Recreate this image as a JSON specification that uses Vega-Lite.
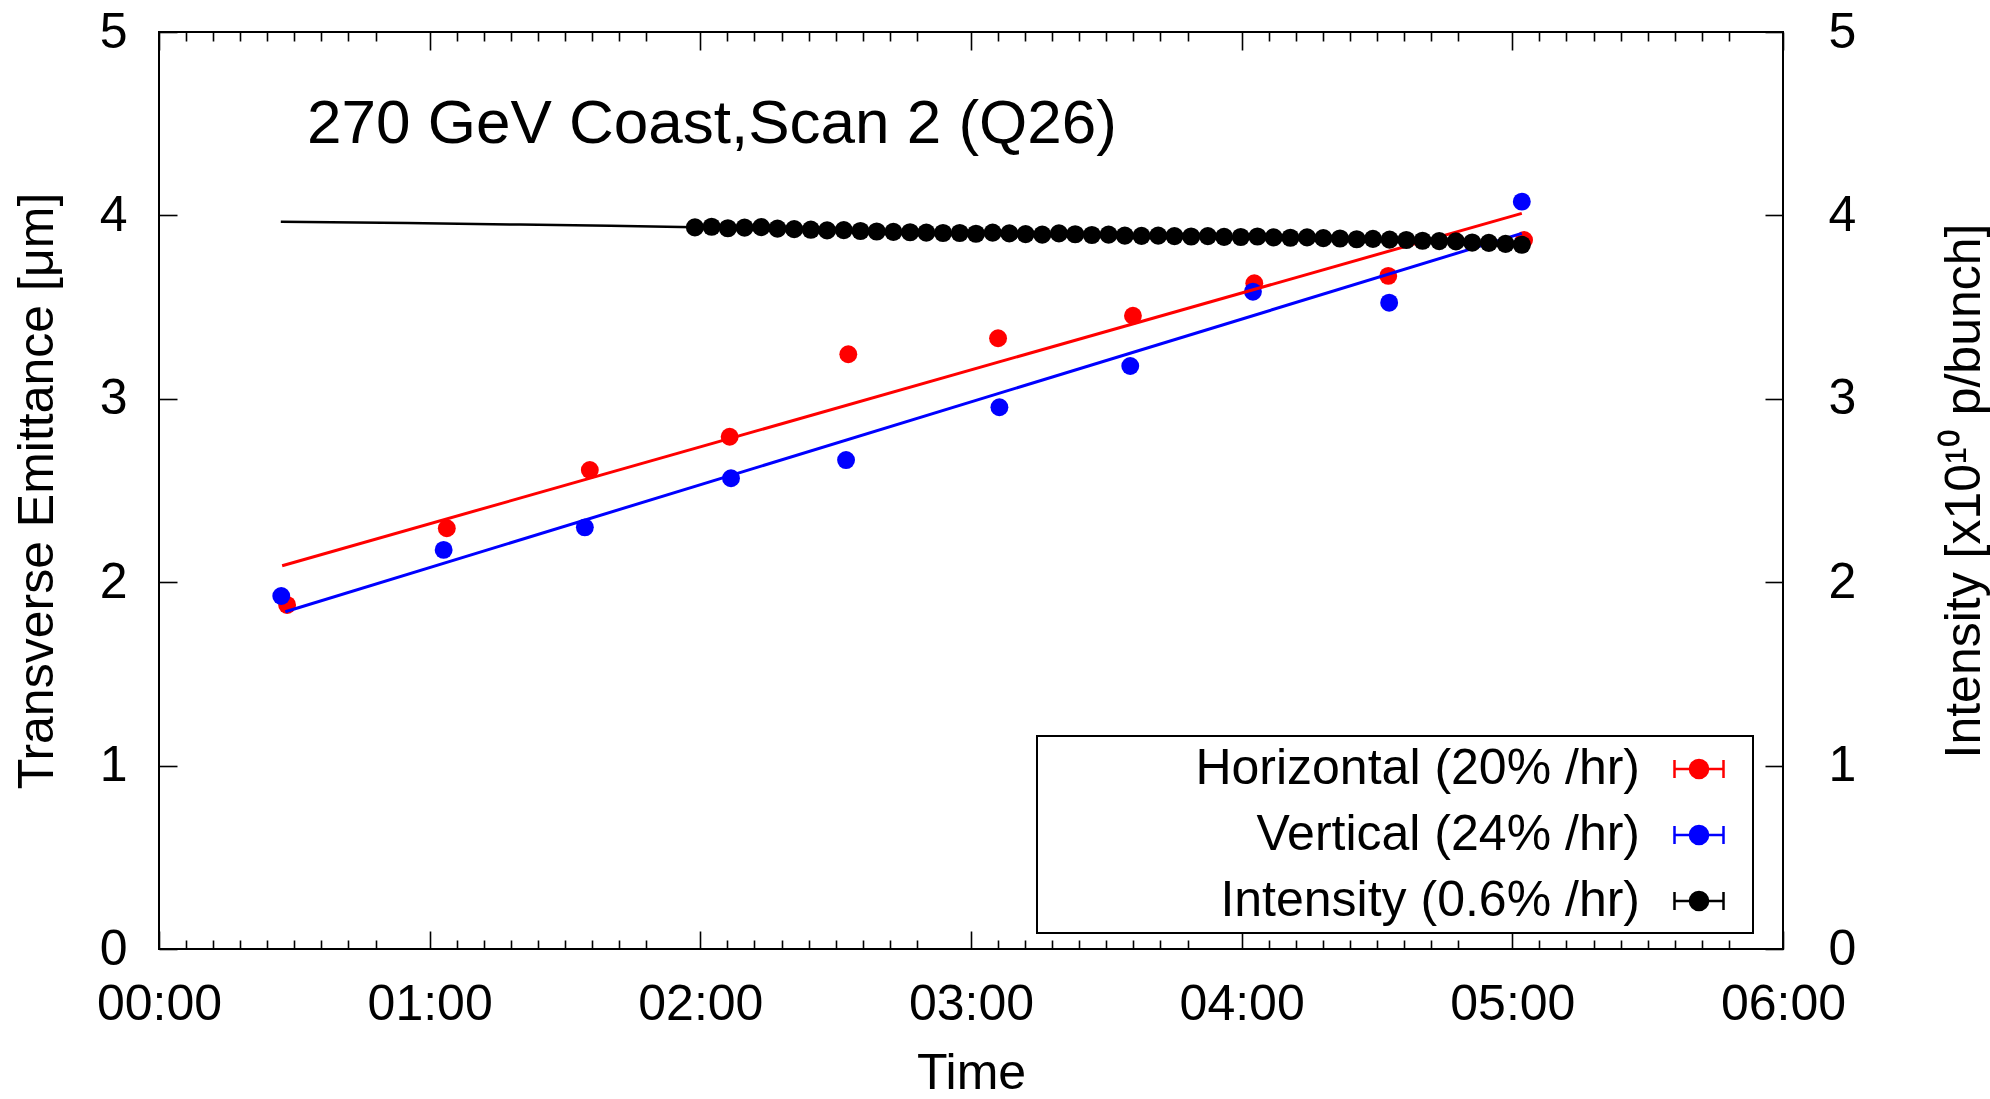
{
  "$schema": "https://vega.github.io/schema/vega-lite/v6.json",
  "width": 1624,
  "height": 917,
  "autosize": {"type": "none"},
  "padding": {"left": 159, "top": 32, "right": 207, "bottom": 150},
  "background": "white",
  "title": {
    "text": "270 GeV Coast,Scan 2 (Q26)",
    "anchor": "start",
    "frame": "group",
    "orient": "top",
    "offset": -198,
    "dx": 148,
    "baseline": "alphabetic",
    "font": "Liberation Sans",
    "fontSize": 62,
    "fontWeight": "normal",
    "color": "black"
  },
  "config": {
    "font": "Liberation Sans",
    "view": {"stroke": "black", "strokeWidth": 2},
    "axis": {
      "domain": false,
      "grid": false,
      "tickColor": "black",
      "tickWidth": 1.6,
      "labelFont": "Liberation Sans",
      "labelFontSize": 50,
      "labelColor": "black",
      "titleFont": "Liberation Sans",
      "titleFontSize": 50,
      "titleFontWeight": "normal",
      "titleColor": "black"
    }
  },
  "datasets": {
    "emit": [
      {"series": "Horizontal (20% /hr)", "minutes": 28.4, "value": 1.876},
      {"series": "Horizontal (20% /hr)", "minutes": 63.8, "value": 2.294},
      {"series": "Horizontal (20% /hr)", "minutes": 95.5, "value": 2.612},
      {"series": "Horizontal (20% /hr)", "minutes": 126.5, "value": 2.793},
      {"series": "Horizontal (20% /hr)", "minutes": 152.8, "value": 3.243},
      {"series": "Horizontal (20% /hr)", "minutes": 186.0, "value": 3.330},
      {"series": "Horizontal (20% /hr)", "minutes": 215.9, "value": 3.453},
      {"series": "Horizontal (20% /hr)", "minutes": 242.8, "value": 3.630},
      {"series": "Horizontal (20% /hr)", "minutes": 272.5, "value": 3.670},
      {"series": "Horizontal (20% /hr)", "minutes": 302.6, "value": 3.866},
      {"series": "Vertical (24% /hr)", "minutes": 27.1, "value": 1.925},
      {"series": "Vertical (24% /hr)", "minutes": 63.1, "value": 2.176},
      {"series": "Vertical (24% /hr)", "minutes": 94.4, "value": 2.299},
      {"series": "Vertical (24% /hr)", "minutes": 126.8, "value": 2.567},
      {"series": "Vertical (24% /hr)", "minutes": 152.3, "value": 2.666},
      {"series": "Vertical (24% /hr)", "minutes": 186.3, "value": 2.954},
      {"series": "Vertical (24% /hr)", "minutes": 215.3, "value": 3.179},
      {"series": "Vertical (24% /hr)", "minutes": 242.5, "value": 3.584},
      {"series": "Vertical (24% /hr)", "minutes": 272.7, "value": 3.524},
      {"series": "Vertical (24% /hr)", "minutes": 302.1, "value": 4.075}
    ],
    "fit": [
      {"series": "Horizontal", "minutes": 27.3, "value": 2.090},
      {"series": "Horizontal", "minutes": 302.1, "value": 4.011},
      {"series": "Vertical", "minutes": 28.0, "value": 1.839},
      {"series": "Vertical", "minutes": 302.1, "value": 3.902}
    ],
    "intensity": [
      {"minutes": 27.0, "value": 3.965, "dot": false},
      {"minutes": 55.0, "value": 3.958, "dot": false},
      {"minutes": 80.0, "value": 3.950, "dot": false},
      {"minutes": 100.0, "value": 3.944, "dot": false},
      {"minutes": 118.8, "value": 3.935, "dot": true},
      {"minutes": 122.5, "value": 3.938, "dot": true},
      {"minutes": 126.1, "value": 3.930, "dot": true},
      {"minutes": 129.8, "value": 3.933, "dot": true},
      {"minutes": 133.5, "value": 3.936, "dot": true},
      {"minutes": 137.1, "value": 3.928, "dot": true},
      {"minutes": 140.8, "value": 3.925, "dot": true},
      {"minutes": 144.5, "value": 3.922, "dot": true},
      {"minutes": 148.1, "value": 3.918, "dot": true},
      {"minutes": 151.8, "value": 3.920, "dot": true},
      {"minutes": 155.5, "value": 3.915, "dot": true},
      {"minutes": 159.1, "value": 3.912, "dot": true},
      {"minutes": 162.8, "value": 3.910, "dot": true},
      {"minutes": 166.5, "value": 3.908, "dot": true},
      {"minutes": 170.1, "value": 3.906, "dot": true},
      {"minutes": 173.8, "value": 3.904, "dot": true},
      {"minutes": 177.5, "value": 3.904, "dot": true},
      {"minutes": 181.1, "value": 3.900, "dot": true},
      {"minutes": 184.8, "value": 3.906, "dot": true},
      {"minutes": 188.5, "value": 3.902, "dot": true},
      {"minutes": 192.1, "value": 3.898, "dot": true},
      {"minutes": 195.8, "value": 3.895, "dot": true},
      {"minutes": 199.5, "value": 3.902, "dot": true},
      {"minutes": 203.1, "value": 3.897, "dot": true},
      {"minutes": 206.8, "value": 3.893, "dot": true},
      {"minutes": 210.5, "value": 3.895, "dot": true},
      {"minutes": 214.1, "value": 3.890, "dot": true},
      {"minutes": 217.8, "value": 3.888, "dot": true},
      {"minutes": 221.5, "value": 3.890, "dot": true},
      {"minutes": 225.1, "value": 3.887, "dot": true},
      {"minutes": 228.8, "value": 3.885, "dot": true},
      {"minutes": 232.5, "value": 3.887, "dot": true},
      {"minutes": 236.1, "value": 3.883, "dot": true},
      {"minutes": 239.8, "value": 3.882, "dot": true},
      {"minutes": 243.5, "value": 3.885, "dot": true},
      {"minutes": 247.1, "value": 3.880, "dot": true},
      {"minutes": 250.8, "value": 3.878, "dot": true},
      {"minutes": 254.5, "value": 3.880, "dot": true},
      {"minutes": 258.1, "value": 3.876, "dot": true},
      {"minutes": 261.8, "value": 3.874, "dot": true},
      {"minutes": 265.5, "value": 3.870, "dot": true},
      {"minutes": 269.1, "value": 3.872, "dot": true},
      {"minutes": 272.8, "value": 3.868, "dot": true},
      {"minutes": 276.5, "value": 3.866, "dot": true},
      {"minutes": 280.1, "value": 3.862, "dot": true},
      {"minutes": 283.8, "value": 3.860, "dot": true},
      {"minutes": 287.5, "value": 3.858, "dot": true},
      {"minutes": 291.1, "value": 3.852, "dot": true},
      {"minutes": 294.8, "value": 3.850, "dot": true},
      {"minutes": 298.5, "value": 3.845, "dot": true},
      {"minutes": 302.1, "value": 3.840, "dot": true}
    ]
  },
  "layer": [
    {
      "data": {"name": "emit"},
      "mark": {"type": "circle", "size": 320, "opacity": 1},
      "encoding": {
        "x": {
          "field": "minutes", "type": "quantitative",
          "scale": {"domain": [0, 360], "nice": false, "zero": false},
          "axis": {
            "orient": "bottom",
            "title": "Time",
            "titlePadding": 10,
            "values": [0,6,12,18,24,30,36,42,48,60,66,72,78,84,90,96,102,108,120,126,132,138,144,150,156,162,168,180,186,192,198,204,210,216,222,228,240,246,252,258,264,270,276,282,288,300,306,312,318,324,330,336,342,348,360],
            "labelExpr": "datum.value % 60 === 0 ? '0' + (datum.value / 60) + ':00' : ''",
            "tickSize": {"condition": {"test": "datum.value % 60 === 0", "value": -18}, "value": -9},
            "labelPadding": 48,
            "labelFlush": false,
            "labelOverlap": false
          }
        },
        "y": {
          "field": "value", "type": "quantitative",
          "scale": {"domain": [0, 5], "nice": false},
          "axis": {
            "orient": "left",
            "title": "Transverse Emittance [μm]",
            "values": [0, 1, 2, 3, 4, 5],
            "format": "d",
            "tickSize": -18,
            "labelPadding": 50,
            "titlePadding": 37
          }
        },
        "color": {
          "field": "series", "type": "nominal",
          "scale": {
            "domain": ["Horizontal (20% /hr)", "Vertical (24% /hr)", "Intensity (0.6% /hr)"],
            "range": ["#ff0000", "#0000ff", "#000000"]
          },
          "legend": {
            "orient": "none",
            "legendX": 878,
            "legendY": 704,
            "title": " ",
            "titleOrient": "left",
            "titleFontSize": 50,
            "titlePadding": 149,
            "fillColor": "white",
            "strokeColor": "black",
            "padding": 7,
            "rowPadding": 15,
            "labelFont": "Liberation Sans",
            "labelFontSize": 50,
            "labelColor": "black",
            "labelLimit": 1000,
            "labelAlign": "right",
            "labelOffset": -85,
            "symbolOffset": 480,
            "symbolType": "M-1,0H1M-1,-0.37V0.37M1,-0.37V0.37M-0.37,0A0.37,0.37,0,1,0,0.37,0A0.37,0.37,0,1,0,-0.37,0ZM1.7,0",
            "symbolSize": 2401,
            "symbolStrokeWidth": 2.5,
            "encoding": {
              "legend": {"strokeWidth": {"value": 2}},
              "symbols": {
                "stroke": {"value": {"expr": "scale('color', datum.value)"}},
                "strokeWidth": {"value": 2.5},
                "opacity": {"value": 1}
              }
            }
          }
        }
      }
    },
    {
      "data": {"name": "fit"},
      "mark": {"type": "line", "strokeWidth": 3},
      "encoding": {
        "x": {"field": "minutes", "type": "quantitative", "axis": null},
        "y": {"field": "value", "type": "quantitative", "axis": null},
        "detail": {"field": "series"},
        "color": {"condition": {"test": "datum.series === 'Horizontal'", "value": "#ff0000"}, "value": "#0000ff"}
      }
    },
    {
      "data": {"name": "intensity"},
      "mark": {"type": "line", "strokeWidth": 2.5, "color": "black"},
      "encoding": {
        "x": {
          "field": "minutes", "type": "quantitative",
          "axis": {
            "orient": "top",
            "title": null,
            "labels": false,
            "values": [0,6,12,18,24,30,36,42,48,60,66,72,78,84,90,96,102,108,120,126,132,138,144,150,156,162,168,180,186,192,198,204,210,216,222,228,240,246,252,258,264,270,276,282,288,300,306,312,318,324,330,336,342,348,360],
            "tickSize": {"condition": {"test": "datum.value % 60 === 0", "value": -18}, "value": -9}
          }
        },
        "y": {
          "field": "value", "type": "quantitative",
          "axis": {
            "orient": "right",
            "title": "Intensity [x10¹⁰ p/bunch]",
            "titleAngle": -90,
            "titleBaseline": "top",
            "values": [0, 1, 2, 3, 4, 5],
            "format": "d",
            "tickSize": -18,
            "labelPadding": 63,
            "titlePadding": 84
          }
        }
      }
    },
    {
      "data": {"name": "intensity"},
      "transform": [{"filter": "datum.dot"}],
      "mark": {"type": "circle", "size": 330, "opacity": 1},
      "encoding": {
        "x": {"field": "minutes", "type": "quantitative", "axis": null},
        "y": {"field": "value", "type": "quantitative", "axis": null},
        "color": {"datum": "Intensity (0.6% /hr)", "type": "nominal"}
      }
    }
  ],
  "resolve": {"axis": {"x": "independent", "y": "independent"}}
}
